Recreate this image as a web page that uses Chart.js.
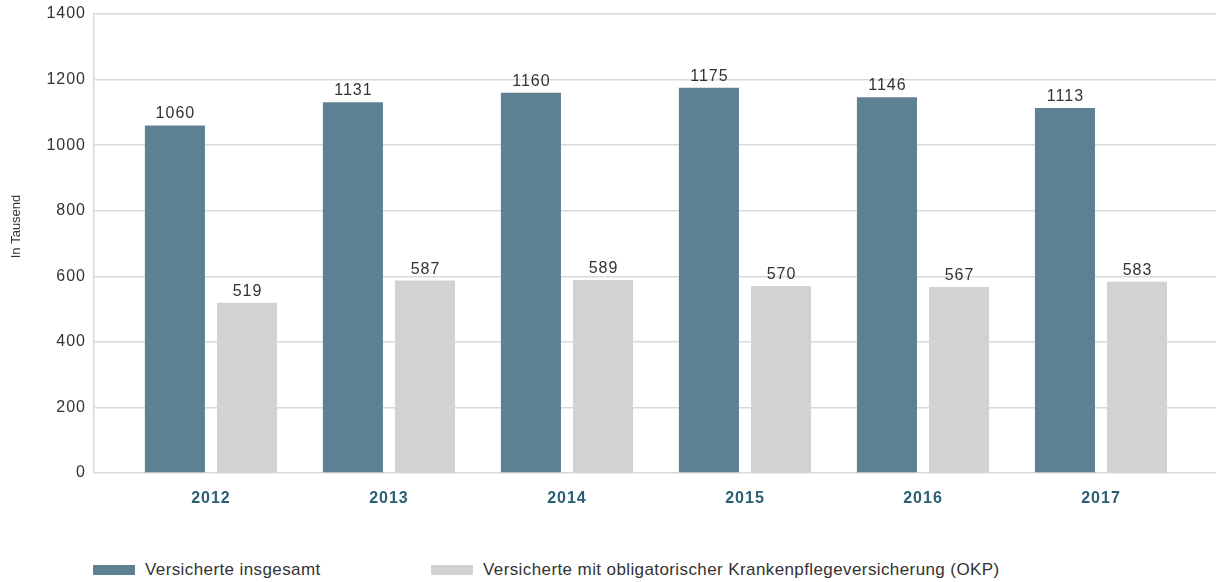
<!DOCTYPE html>
<html>
<head>
<meta charset="utf-8">
<script src="https://cdn.jsdelivr.net/npm/chart.js@4"></script>
<style>
  html, body { margin: 0; padding: 0; background: #fff; }
  #wrap { position: relative; width: 1216px; height: 582px; }
  #c { position: absolute; left: 0; top: 0; }
  #legend { position: absolute; left: 93px; top: 560px; font-family: "Liberation Sans", Arial, sans-serif; font-size: 17px; letter-spacing: 0.4px; color: #333; }
  .item { position: absolute; top: 0; white-space: nowrap; display: flex; align-items: center; }
  .sw { width: 42px; height: 10px; margin-right: 10px; display: inline-block; }
</style>
</head>
<body>
<div id="wrap">
  <canvas id="c" width="1216" height="540" style="width:1216px;height:540px"></canvas>
  <div id="legend"></div>
</div>
<script>
const categories = ['2012', '2013', '2014', '2015', '2016', '2017'];
const seriesTotal = [1060, 1131, 1160, 1175, 1146, 1113];
const seriesOKP = [519, 587, 589, 570, 567, 583];
const seriesNames = ['Versicherte insgesamt', 'Versicherte mit obligatorischer Krankenpflegeversicherung (OKP)'];
const yTicks = [0, 200, 400, 600, 800, 1000, 1200, 1400];
const yTitle = 'In Tausend';
const colors = ['#5e8093', '#d1d2d4'];

const FONT = '"Liberation Sans", Arial, sans-serif';

const spacing = {
  id: 'spacing',
  beforeInit(chart) { chart.ctx.letterSpacing = '1px'; },
  beforeUpdate(chart) { chart.ctx.letterSpacing = '1px'; },
  beforeDraw(chart) { chart.ctx.letterSpacing = '1px'; }
};

const yTitlePlugin = {
  id: 'yTitlePlugin',
  afterDraw(chart) {
    const ctx = chart.ctx;
    const a = chart.chartArea;
    ctx.save();
    ctx.letterSpacing = '0px';
    ctx.font = '13px ' + FONT;
    ctx.fillStyle = '#333';
    ctx.textAlign = 'center';
    ctx.textBaseline = 'middle';
    ctx.translate(16, (a.top + a.bottom) / 2 - 17);
    ctx.rotate(-Math.PI / 2);
    ctx.fillText(yTitle, 0, 0);
    ctx.restore();
  }
};

const valueLabels = {
  id: 'valueLabels',
  afterDatasetsDraw(chart) {
    const ctx = chart.ctx;
    ctx.save();
    ctx.letterSpacing = '1px';
    ctx.font = '16px ' + FONT;
    ctx.fillStyle = '#333';
    ctx.textAlign = 'center';
    ctx.textBaseline = 'alphabetic';
    chart.data.datasets.forEach((ds, di) => {
      const meta = chart.getDatasetMeta(di);
      meta.data.forEach((bar, i) => {
        ctx.fillText(String(ds.data[i].y), bar.x + 0.5, bar.y - 7);
      });
    });
    ctx.restore();
  }
};

const toPoints = arr => arr.map((v, i) => ({ x: i, y: v }));

new Chart(document.getElementById('c'), {
  type: 'bar',
  data: {
    datasets: [
      { label: seriesNames[0], data: toPoints(seriesTotal), backgroundColor: colors[0], categoryPercentage: 0.81, barPercentage: 0.833 },
      { label: seriesNames[1], data: toPoints(seriesOKP), backgroundColor: colors[1], categoryPercentage: 0.81, barPercentage: 0.833 }
    ]
  },
  options: {
    responsive: false,
    animation: false,
    layout: { padding: { top: 14, right: 0, left: 0, bottom: 0 } },
    plugins: { legend: { display: false }, tooltip: { enabled: false } },
    scales: {
      x: {
        type: 'linear',
        min: -0.657,
        max: 5.646,
        offset: false,
        grid: { display: false, drawTicks: false },
        border: { display: false },
        afterBuildTicks(scale) { scale.ticks = categories.map((c, i) => ({ value: i })); },
        afterFit(scale) { scale.height = 67; scale.paddingLeft = 0; scale.paddingRight = 0; },
        ticks: {
          autoSkip: false,
          maxRotation: 0,
          padding: 16,
          color: '#2b5f74',
          font: { family: FONT, size: 16, weight: 'bold' },
          callback: (v) => categories[v]
        }
      },
      y: {
        min: 0,
        max: 1400,
        afterBuildTicks(scale) { scale.ticks = yTicks.map(v => ({ value: v })); },
        afterFit(scale) { scale.width = 94; scale.paddingTop = 0; scale.paddingBottom = 0; },
        grid: { color: '#d9d9d9', lineWidth: 1.5, drawTicks: false },
        border: { display: true, color: '#d9d9d9', width: 1.5 },
        title: { display: false },
        ticks: { padding: 8, color: '#333', font: { family: FONT, size: 16 }, callback: (v) => String(v) }
      }
    }
  },
  plugins: [spacing, valueLabels, yTitlePlugin]
});

const legend = document.getElementById('legend');
const legendX = [0, 338];
seriesNames.forEach((name, i) => {
  const it = document.createElement('div');
  it.className = 'item';
  it.style.left = legendX[i] + 'px';
  const sw = document.createElement('span');
  sw.className = 'sw';
  sw.style.background = colors[i];
  const tx = document.createElement('span');
  tx.textContent = name;
  it.appendChild(sw);
  it.appendChild(tx);
  legend.appendChild(it);
});
</script>
</body>
</html>
